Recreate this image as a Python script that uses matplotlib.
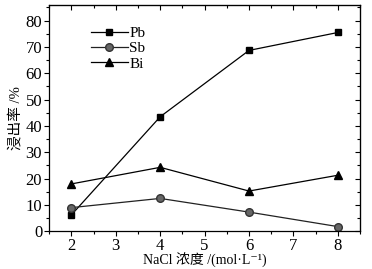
import matplotlib
matplotlib.use('Agg')
import matplotlib.pyplot as plt
from matplotlib.ticker import MultipleLocator

plt.rcParams['font.family'] = ['Liberation Serif', 'Noto Sans CJK SC', 'DejaVu Serif']

# NaCl concentration (mol/L)
conc = [2, 4, 6, 8]
# leaching rate (%)
pb = [6.2, 43.5, 68.7, 75.5]
sb = [9.0, 12.5, 7.3, 1.8]
bi = [18.0, 24.3, 15.3, 21.3]

fig = plt.figure(figsize=(3.72, 2.69), dpi=100)
ax = fig.add_axes([0.132, 0.14, 0.836, 0.842])

ax.plot(conc, pb, color='black', lw=0.9, marker='s', ms=5, mfc='black', mec='black', label='Pb')
ax.plot(conc, sb, color='#222222', lw=0.9, marker='o', ms=5.5, mfc='#666666', mec='#333333', label='Sb')
ax.plot(conc, bi, color='black', lw=0.9, marker='^', ms=5.5, mfc='black', mec='black', label='Bi')

ax.set_xlim(1.5, 8.5)
ax.set_ylim(0, 86)
ax.xaxis.set_major_locator(MultipleLocator(1))
ax.xaxis.set_minor_locator(MultipleLocator(0.5))
ax.yaxis.set_major_locator(MultipleLocator(10))
ax.yaxis.set_minor_locator(MultipleLocator(5))

ax.tick_params(which='both', direction='out', labelsize=12, width=0.8, pad=1.5)
ax.tick_params(which='major', length=3.5)
ax.tick_params(which='minor', length=2)
for s in ax.spines.values():
    s.set_linewidth(0.9)

# inward ticks on top and right
top = ax.secondary_xaxis('top')
top.xaxis.set_major_locator(MultipleLocator(1))
top.xaxis.set_minor_locator(MultipleLocator(0.5))
top.tick_params(which='both', direction='in', labeltop=False, width=0.8)
top.tick_params(which='major', length=3.5)
top.tick_params(which='minor', length=2)
right = ax.secondary_yaxis('right')
right.yaxis.set_major_locator(MultipleLocator(10))
right.yaxis.set_minor_locator(MultipleLocator(5))
right.tick_params(which='both', direction='in', labelright=False, width=0.8)
right.tick_params(which='major', length=3.5)
right.tick_params(which='minor', length=2)

ax.set_xlabel('NaCl 浓度 /(mol·L⁻¹)', fontsize=10, labelpad=-1)
ax.set_ylabel('浸出率 /%', fontsize=10.5, labelpad=2)

ax.legend(loc='upper left', bbox_to_anchor=(0.09, 0.965), frameon=False, fontsize=11,
          handlelength=2.4, handletextpad=0.1, labelspacing=0.1)

fig.savefig('out.png', dpi=100)
